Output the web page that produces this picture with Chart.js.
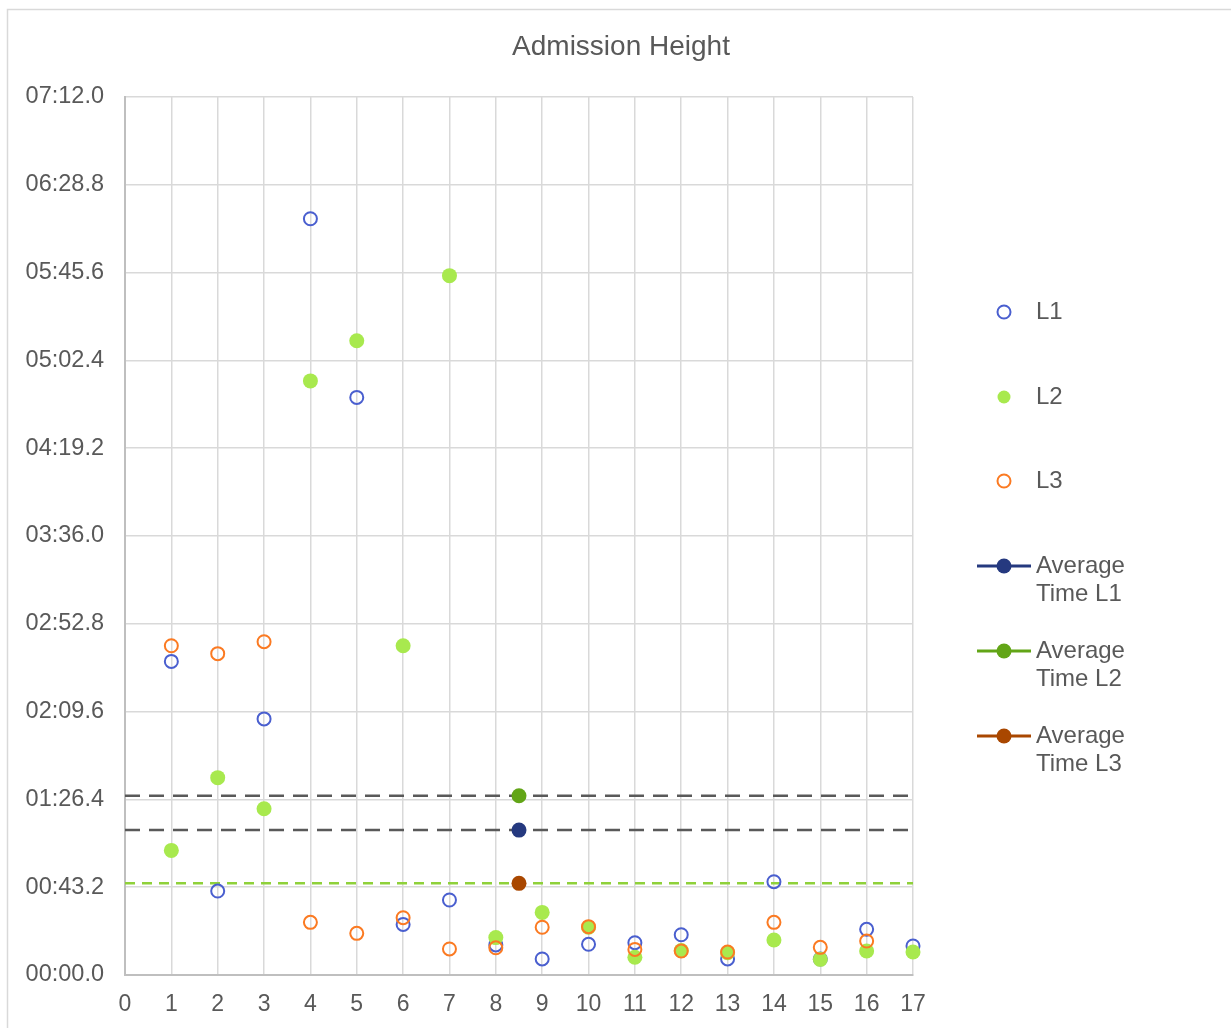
<!DOCTYPE html>
<html>
<head>
<meta charset="utf-8">
<title>Admission Height</title>
<script src="https://cdn.jsdelivr.net/npm/chart.js@4/dist/chart.umd.min.js"></script>
<style>
  html, body { margin: 0; padding: 0; background: #ffffff; }
  #wrap { width: 1231px; height: 1028px; position: relative; }
</style>
</head>
<body>
<div id="wrap"><canvas id="chart" width="1231" height="1028"></canvas></div>
<script>
// Patient number along the x axis
const patients = [1, 2, 3, 4, 5, 6, 7, 8, 9, 10, 11, 12, 13, 14, 15, 16, 17];

// Admission times in seconds for each line
const timesL1 = [154.3, 41.3, 126.0, 372.1, 284.2, 24.9, 36.9, 14.8, 7.9, 15.1, 15.9, 19.8, 7.9, 45.9, 7.9, 22.5, 14.3];
const timesL2 = [61.3, 97.1, 81.8, 292.3, 312.1, 162.0, 344.1, 18.4, 30.8, 23.5, 8.7, 12.0, 11.0, 17.2, 7.7, 11.8, 11.3];
const timesL3 = [162.0, 158.1, 164.0, 25.9, 20.5, 28.2, 12.8, 13.4, 23.5, 23.8, 12.6, 11.8, 11.3, 25.9, 13.6, 16.7, null];

// Average time per line (seconds), shown at the middle of the axis
const averagePosition = 8.5;
const averageL1 = 71.3;
const averageL2 = 88.2;
const averageL3 = 45.1;

// Axis ticks
const xTicks = [0, 1, 2, 3, 4, 5, 6, 7, 8, 9, 10, 11, 12, 13, 14, 15, 16, 17];
const yTicks = [0, 43.2, 86.4, 129.6, 172.8, 216.0, 259.2, 302.4, 345.6, 388.8, 432.0];

const seriesNames = ['L1', 'L2', 'L3', 'Average Time L1', 'Average Time L2', 'Average Time L3'];

const FONT = "'Liberation Sans', Arial, sans-serif";
const TEXT = '#595959';

function pts(values) {
  return patients.map((p, i) => ({ x: p, y: values[i] }));
}
function hline(v) {
  return [{ x: xTicks[0], y: v }, { x: xTicks[xTicks.length - 1], y: v }];
}
function mmss(v) {
  const t = Math.round(v * 10) / 10;
  const m = Math.floor(t / 60);
  const s = t - m * 60;
  return String(m).padStart(2, '0') + ':' + s.toFixed(1).padStart(4, '0');
}

// Frame, title and the right-hand key
const decorations = {
  id: 'decorations',
  beforeDraw(chart) {
    const ctx = chart.ctx;
    ctx.save();
    ctx.fillStyle = '#ffffff';
    ctx.fillRect(0, 0, chart.width, chart.height);
    ctx.strokeStyle = '#d9d9d9';
    ctx.lineWidth = 1.5;
    ctx.strokeRect(7.5, 9.5, chart.width + 20, chart.height + 20);
    ctx.restore();
  },
  afterDraw(chart) {
    const ctx = chart.ctx;
    ctx.save();
    ctx.fillStyle = TEXT;
    ctx.font = '28px ' + FONT;
    ctx.textAlign = 'center';
    ctx.textBaseline = 'middle';
    ctx.fillText('Admission Height', 621, 47);

    const rows = [312, 397, 481, 566, 651, 736];
    const markerX = 1004;
    const textX = 1036;
    ctx.font = '24px ' + FONT;
    ctx.textAlign = 'left';
    rows.forEach((y, i) => {
      const ds = chart.data.datasets[i];
      if (i >= 3) {
        ctx.strokeStyle = ds.pointBackgroundColor;
        ctx.lineWidth = 3;
        ctx.beginPath();
        ctx.moveTo(977, y);
        ctx.lineTo(1031, y);
        ctx.stroke();
      }
      ctx.beginPath();
      ctx.arc(markerX, y, i >= 3 ? 7.5 : 6.5, 0, Math.PI * 2);
      if (ds.pointBackgroundColor && ds.pointBackgroundColor !== 'transparent') {
        ctx.fillStyle = ds.pointBackgroundColor;
        ctx.fill();
      }
      if (ds.pointBorderWidth > 0) {
        ctx.strokeStyle = ds.pointBorderColor;
        ctx.lineWidth = ds.pointBorderWidth;
        ctx.stroke();
      }
      ctx.fillStyle = TEXT;
      const label = ds.label;
      if (label.length > 4) {
        const cut = label.indexOf(' ');
        ctx.fillText(label.slice(0, cut), textX, y);
        ctx.fillText(label.slice(cut + 1), textX, y + 28);
      } else {
        ctx.fillText(label, textX, y);
      }
    });
    ctx.restore();
  }
};

const openPoint = (color, order, data, label) => ({
  label, data, order,
  clip: false,
  showLine: false,
  pointRadius: 6.5,
  pointBorderWidth: 2,
  pointBorderColor: color,
  pointBackgroundColor: 'transparent'
});
const filledPoint = (color, order, data, label, r) => ({
  label, data, order,
  clip: false,
  showLine: false,
  pointRadius: r,
  pointBorderWidth: 0,
  pointBorderColor: color,
  pointBackgroundColor: color
});
const dashedLine = (color, order, value, dash, width) => ({
  label: '', data: hline(value), order,
  showLine: true,
  borderColor: color,
  borderWidth: width,
  borderDash: dash,
  pointRadius: 0,
  pointBorderWidth: 0,
  pointBackgroundColor: 'transparent'
});

new Chart(document.getElementById('chart'), {
  type: 'scatter',
  data: {
    datasets: [
      openPoint('#4a5fcf', 3, pts(timesL1), seriesNames[0]),
      filledPoint('#a8e94e', 2, pts(timesL2), seriesNames[1], 7.5),
      openPoint('#fb7a22', 1, pts(timesL3), seriesNames[2]),
      filledPoint('#25397f', 0, [{ x: averagePosition, y: averageL1 }], seriesNames[3], 7.5),
      filledPoint('#62a517', 0, [{ x: averagePosition, y: averageL2 }], seriesNames[4], 7.5),
      filledPoint('#a94700', 0, [{ x: averagePosition, y: averageL3 }], seriesNames[5], 7.5),
      dashedLine('#595959', 6, averageL1, [15, 9], 2.5),
      dashedLine('#595959', 6, averageL2, [15, 9], 2.5),
      dashedLine('#8fd13a', 6, averageL3, [10, 7], 2.5)
    ]
  },
  options: {
    responsive: false,
    animation: false,
    layout: { padding: { top: 97, right: 318, bottom: 0, left: 0 } },
    plugins: {
      legend: { display: false },
      title: { display: false },
      tooltip: { enabled: false }
    },
    scales: {
      x: {
        type: 'linear',
        min: xTicks[0],
        max: xTicks[xTicks.length - 1],
        afterBuildTicks(scale) { scale.ticks = xTicks.map(v => ({ value: v })); },
        afterFit(scale) { scale.height = 53; },
        grid: { color: '#d9d9d9', lineWidth: 1.5, drawTicks: false },
        border: { color: '#bfbfbf', width: 2 },
        ticks: { color: TEXT, font: { family: FONT, size: 23 }, padding: 16, maxRotation: 0, autoSkip: false }
      },
      y: {
        type: 'linear',
        min: yTicks[0],
        max: yTicks[yTicks.length - 1],
        afterBuildTicks(scale) { scale.ticks = yTicks.map(v => ({ value: v })); },
        afterFit(scale) { scale.width = 125; },
        grid: { color: '#d9d9d9', lineWidth: 1.5, drawTicks: false },
        border: { color: '#bfbfbf', width: 2 },
        ticks: { color: TEXT, font: { family: FONT, size: 23.5 }, padding: 21, callback: v => mmss(v), autoSkip: false }
      }
    }
  },
  plugins: [decorations]
});
</script>
</body>
</html>
